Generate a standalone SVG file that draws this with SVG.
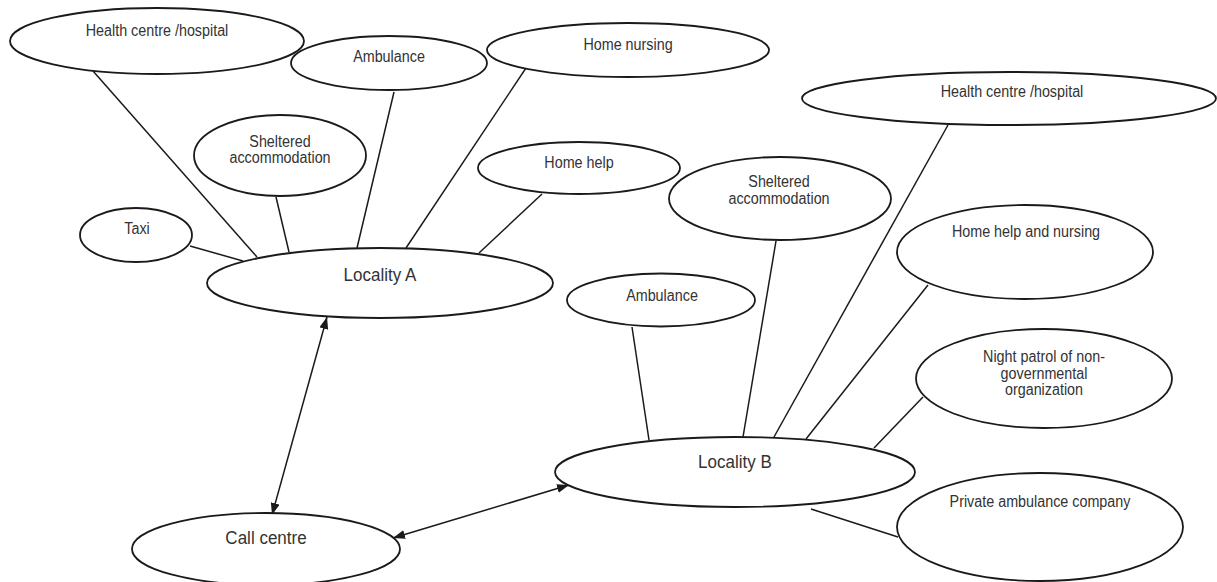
<svg xmlns="http://www.w3.org/2000/svg" width="1217" height="582" viewBox="0 0 1217 582">
<style>
.n ellipse{fill:#fff;stroke:#1a1a1a;stroke-width:1.8}
.n text{font-family:"Liberation Sans",Arial,sans-serif;font-size:15.6px;fill:#333;text-anchor:middle}
.n text.big{font-size:18.5px}
#connectors line{stroke:#1a1a1a;stroke-width:1.5;fill:none}
</style>
<defs>
<marker id="ah" markerUnits="userSpaceOnUse" markerWidth="12" markerHeight="10" refX="12" refY="4.5" orient="auto-start-reverse">
<path d="M0,0 L12,4.5 L0,9 z" fill="#1a1a1a"/>
</marker>
</defs>
<g id="connectors">
<line x1="93" y1="71" x2="257" y2="257"/>
<line x1="190" y1="246" x2="243" y2="261"/>
<line x1="276" y1="197" x2="289" y2="252"/>
<line x1="394" y1="92" x2="357" y2="248"/>
<line x1="526" y1="68" x2="406" y2="248"/>
<line x1="542" y1="194" x2="479" y2="253"/>
<line x1="948" y1="125" x2="774" y2="437"/>
<line x1="776" y1="241" x2="743" y2="437"/>
<line x1="632" y1="327" x2="649" y2="440"/>
<line x1="928" y1="285" x2="806" y2="439"/>
<line x1="923" y1="397" x2="874" y2="448"/>
<line x1="811" y1="509" x2="898" y2="537"/>
<line x1="327" y1="317" x2="272" y2="515" marker-start="url(#ah)" marker-end="url(#ah)"/>
<line x1="393" y1="538" x2="569" y2="485" marker-start="url(#ah)" marker-end="url(#ah)"/>
</g>
<g id="health-a" class="n"><ellipse cx="157" cy="41" rx="147" ry="33"/><text transform="translate(157 36) scale(0.92 1)">Health centre /hospital</text></g>
<g id="ambulance-a" class="n"><ellipse cx="389" cy="63" rx="98" ry="27"/><text transform="translate(389 62) scale(0.92 1)">Ambulance</text></g>
<g id="home-nursing" class="n"><ellipse cx="628" cy="50" rx="141" ry="27"/><text transform="translate(628 50) scale(0.92 1)">Home nursing</text></g>
<g id="sheltered-a" class="n"><ellipse cx="280" cy="155.5" rx="86" ry="40.5"/><text transform="translate(280 147) scale(0.92 1)">Sheltered</text><text transform="translate(280 163) scale(0.92 1)">accommodation</text></g>
<g id="home-help" class="n"><ellipse cx="579" cy="168" rx="101" ry="26"/><text transform="translate(579 168) scale(0.92 1)">Home help</text></g>
<g id="taxi" class="n"><ellipse cx="136" cy="235" rx="56" ry="27"/><text transform="translate(137 234) scale(0.92 1)">Taxi</text></g>
<g id="locality-a" class="n"><ellipse cx="380" cy="283" rx="173" ry="35"/><text class="big" transform="translate(380 281) scale(0.92 1)">Locality A</text></g>
<g id="health-b" class="n"><ellipse cx="1009" cy="98.5" rx="207" ry="26.5"/><text transform="translate(1012 97) scale(0.92 1)">Health centre /hospital</text></g>
<g id="sheltered-b" class="n"><ellipse cx="780" cy="198.5" rx="111" ry="41.5"/><text transform="translate(779 187) scale(0.92 1)">Sheltered</text><text transform="translate(779 204) scale(0.92 1)">accommodation</text></g>
<g id="home-help-nursing" class="n"><ellipse cx="1025" cy="252" rx="128" ry="47"/><text transform="translate(1026 237) scale(0.92 1)">Home help and nursing</text></g>
<g id="ambulance-b" class="n"><ellipse cx="661" cy="300" rx="94" ry="26.5"/><text transform="translate(662 301) scale(0.92 1)">Ambulance</text></g>
<g id="night-patrol" class="n"><ellipse cx="1044" cy="378.5" rx="128" ry="49.5"/><text transform="translate(1044 362) scale(0.92 1)">Night patrol of non-</text><text transform="translate(1044 378.5) scale(0.92 1)">governmental</text><text transform="translate(1044 395) scale(0.92 1)">organization</text></g>
<g id="locality-b" class="n"><ellipse cx="735" cy="472" rx="180" ry="35"/><text class="big" transform="translate(735 468) scale(0.92 1)">Locality B</text></g>
<g id="private-ambulance" class="n"><ellipse cx="1040" cy="527" rx="143" ry="54"/><text transform="translate(1040 507) scale(0.92 1)">Private ambulance company</text></g>
<g id="call-centre" class="n"><ellipse cx="266" cy="549" rx="134" ry="36"/><text class="big" transform="translate(266 544) scale(0.92 1)">Call centre</text></g>
</svg>
